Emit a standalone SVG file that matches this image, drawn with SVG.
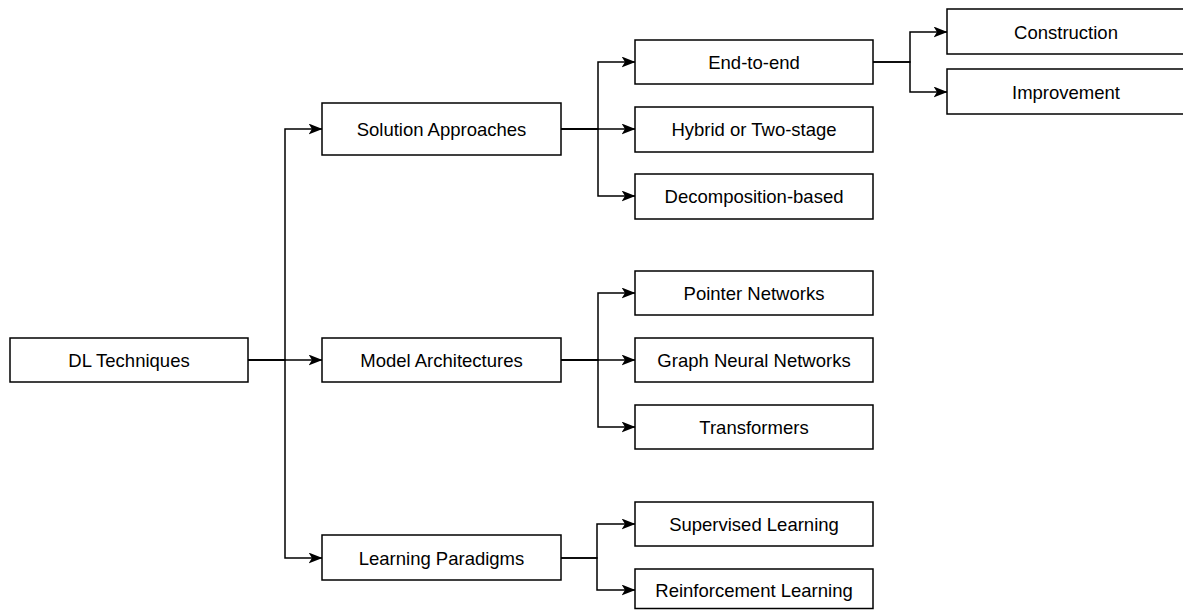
<svg xmlns="http://www.w3.org/2000/svg" width="1183" height="610" viewBox="0 0 1183 610">
  <style>
    .box rect { fill: #ffffff; stroke: #000000; stroke-width: 1.5; }
    .box text { font-family: "Liberation Sans", Arial, sans-serif; font-size: 18.5px; fill: #000000; text-anchor: middle; dominant-baseline: central; }
    .edges path { fill: none; stroke: #000000; stroke-width: 1.5; marker-end: url(#arrow); }
  </style>
  <defs>
    <marker id="arrow" viewBox="0 0 14 11" refX="13.5" refY="5.5" markerWidth="14" markerHeight="11" markerUnits="userSpaceOnUse" orient="auto">
      <path d="M0,0 L14,5.5 L0,11 L3.5,5.5 Z" fill="#000000"/>
    </marker>
  </defs>

  <!-- connectors -->
  <g class="edges">
    <path d="M248,360 L322,360"/>
    <path d="M248,360 L285,360 L285,129 L322,129"/>
    <path d="M248,360 L285,360 L285,558 L322,558"/>

    <path d="M561,129 L598,129 L598,62 L635,62"/>
    <path d="M561,129 L635,129"/>
    <path d="M561,129 L598,129 L598,196 L635,196"/>

    <path d="M873,62 L910,62 L910,32 L947,32"/>
    <path d="M873,62 L910,62 L910,92 L947,92"/>

    <path d="M561,360 L598,360 L598,293 L635,293"/>
    <path d="M561,360 L635,360"/>
    <path d="M561,360 L598,360 L598,427 L635,427"/>

    <path d="M561,558 L597,558 L597,524 L635,524"/>
    <path d="M561,558 L597,558 L597,590 L635,590"/>
  </g>

  <!-- root -->
  <g id="dl-techniques" class="box">
    <rect x="10" y="338" width="238" height="44"/>
    <text x="129" y="360">DL Techniques</text>
  </g>

  <!-- first level -->
  <g id="solution-approaches" class="box">
    <rect x="322" y="103" width="239" height="52"/>
    <text x="441.5" y="129">Solution Approaches</text>
  </g>
  <g id="model-architectures" class="box">
    <rect x="322" y="338" width="239" height="44"/>
    <text x="441.5" y="360">Model Architectures</text>
  </g>
  <g id="learning-paradigms" class="box">
    <rect x="322" y="535" width="239" height="45"/>
    <text x="441.5" y="558">Learning Paradigms</text>
  </g>

  <!-- solution approaches -->
  <g id="end-to-end" class="box">
    <rect x="635" y="40" width="238" height="44"/>
    <text x="754" y="62">End-to-end</text>
  </g>
  <g id="hybrid" class="box">
    <rect x="635" y="107" width="238" height="45"/>
    <text x="754" y="129">Hybrid or Two-stage</text>
  </g>
  <g id="decomposition" class="box">
    <rect x="635" y="174" width="238" height="45"/>
    <text x="754" y="196">Decomposition-based</text>
  </g>

  <!-- end-to-end variants -->
  <g id="construction" class="box">
    <rect x="947" y="9" width="238" height="45"/>
    <text x="1066" y="32">Construction</text>
  </g>
  <g id="improvement" class="box">
    <rect x="947" y="69" width="238" height="45"/>
    <text x="1066" y="92">Improvement</text>
  </g>

  <!-- model architectures -->
  <g id="pointer-networks" class="box">
    <rect x="635" y="271" width="238" height="44"/>
    <text x="754" y="293">Pointer Networks</text>
  </g>
  <g id="gnn" class="box">
    <rect x="635" y="338" width="238" height="44"/>
    <text x="754" y="360">Graph Neural Networks</text>
  </g>
  <g id="transformers" class="box">
    <rect x="635" y="405" width="238" height="44"/>
    <text x="754" y="427">Transformers</text>
  </g>

  <!-- learning paradigms -->
  <g id="supervised" class="box">
    <rect x="635" y="502" width="238" height="44"/>
    <text x="754" y="524">Supervised Learning</text>
  </g>
  <g id="reinforcement" class="box">
    <rect x="635" y="569" width="238" height="39.5"/>
    <text x="754" y="590">Reinforcement Learning</text>
  </g>
</svg>
